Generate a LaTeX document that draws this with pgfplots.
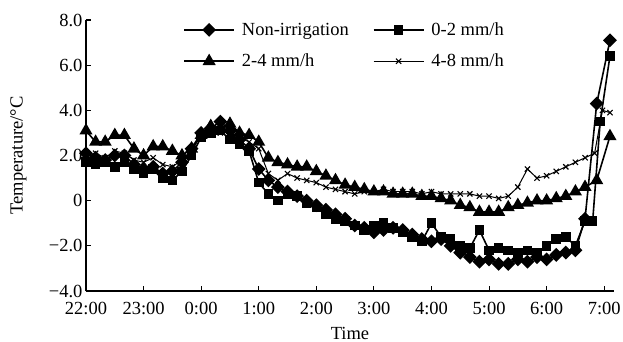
\documentclass[border=0pt]{standalone}
\usepackage{pgfplots}
\pgfplotsset{compat=1.18}
\usepackage{pgfplotstable}
\usepackage{fontspec}
\setmainfont{Liberation Serif}

% hours after 22:00, temperature (deg C)
\pgfplotstableread{
h T
0.000 2.1
0.167 1.9
0.333 1.8
0.500 2.0
0.667 2.0
0.833 1.6
1.000 1.4
1.167 1.5
1.333 1.2
1.500 1.3
1.667 1.7
1.833 2.3
2.000 3.0
2.167 3.2
2.333 3.5
2.500 3.1
2.667 2.7
2.833 2.3
3.000 1.4
3.167 0.9
3.333 0.6
3.500 0.4
3.667 0.2
3.833 0.0
4.000 -0.2
4.167 -0.4
4.333 -0.6
4.500 -0.8
4.667 -1.1
4.833 -1.2
5.000 -1.4
5.167 -1.3
5.333 -1.2
5.500 -1.3
5.667 -1.5
5.833 -1.7
6.000 -1.8
6.167 -1.7
6.333 -2.0
6.500 -2.3
6.667 -2.5
6.833 -2.7
7.000 -2.6
7.167 -2.8
7.333 -2.8
7.500 -2.6
7.667 -2.7
7.833 -2.5
8.000 -2.6
8.167 -2.4
8.333 -2.3
8.500 -2.2
8.667 -0.8
8.870 4.3
9.100 7.1
}\tabNI

\pgfplotstableread{
h T
0.000 1.7
0.167 1.6
0.333 1.7
0.500 1.5
0.667 1.7
0.833 1.4
1.000 1.2
1.167 1.4
1.333 1.0
1.500 0.9
1.667 1.3
1.833 2.0
2.000 2.8
2.167 3.0
2.333 3.1
2.500 2.7
2.667 2.5
2.833 2.2
3.000 0.8
3.167 0.3
3.333 0.0
3.500 0.3
3.667 0.2
3.833 -0.1
4.000 -0.3
4.167 -0.6
4.333 -0.8
4.500 -0.9
4.667 -1.1
4.833 -1.3
5.000 -1.1
5.167 -1.0
5.333 -1.2
5.500 -1.4
5.667 -1.6
5.833 -1.8
6.000 -1.0
6.167 -1.6
6.333 -1.7
6.500 -2.0
6.667 -2.1
6.833 -1.3
7.000 -2.2
7.167 -2.1
7.333 -2.2
7.500 -2.3
7.667 -2.2
7.833 -2.3
8.000 -2.0
8.167 -1.7
8.333 -1.6
8.500 -2.0
8.667 -0.9
8.800 -0.9
8.930 3.5
9.100 6.4
}\tabA

\pgfplotstableread{
h T
0.000 3.1
0.167 2.6
0.333 2.6
0.500 2.9
0.667 2.9
0.833 2.3
1.000 2.0
1.167 2.4
1.333 2.4
1.500 2.2
1.667 2.0
1.833 2.3
2.000 2.9
2.167 3.3
2.333 3.2
2.500 3.4
2.667 3.0
2.833 2.9
3.000 2.6
3.167 1.9
3.333 1.7
3.500 1.6
3.667 1.5
3.833 1.5
4.000 1.3
4.167 1.1
4.333 0.9
4.500 0.7
4.667 0.6
4.833 0.5
5.000 0.4
5.167 0.4
5.333 0.3
5.500 0.3
5.667 0.3
5.833 0.2
6.000 0.2
6.167 0.1
6.333 0.0
6.500 -0.2
6.667 -0.3
6.833 -0.5
7.000 -0.5
7.167 -0.5
7.333 -0.3
7.500 -0.2
7.667 -0.1
7.833 0.0
8.000 0.0
8.167 0.1
8.333 0.2
8.500 0.4
8.667 0.6
8.870 0.9
9.100 2.85
}\tabB

\pgfplotstableread{
h T
0.000 2.0
0.167 2.1
0.333 1.9
0.500 2.2
0.667 2.1
0.833 1.8
1.000 1.7
1.167 1.9
1.333 1.6
1.500 1.5
1.667 1.8
1.833 2.2
2.000 2.9
2.167 3.1
2.333 3.0
2.500 3.2
2.667 2.8
2.833 2.6
3.000 2.3
3.167 1.2
3.333 0.9
3.500 1.2
3.667 1.0
3.833 0.9
4.000 0.8
4.167 0.6
4.333 0.5
4.500 0.4
4.667 0.3
4.833 0.4
5.000 0.4
5.167 0.5
5.333 0.4
5.500 0.4
5.667 0.4
5.833 0.3
6.000 0.4
6.167 0.3
6.333 0.3
6.500 0.3
6.667 0.3
6.833 0.2
7.000 0.2
7.167 0.1
7.333 0.2
7.500 0.6
7.667 1.4
7.833 1.0
8.000 1.1
8.167 1.3
8.333 1.5
8.500 1.7
8.667 1.9
8.833 2.1
8.970 4.0
9.100 3.9
}\tabC

\begin{document}
\begin{tikzpicture}
\useasboundingbox (-86bp,-51bp) rectangle (537bp,291bp);
\begin{axis}[
  at={(0,0)}, anchor=south west,
  scale only axis, width=528bp, height=271bp,
  xmin=0, xmax=9.17, ymin=-4, ymax=8,
  axis x line*=bottom, axis y line*=left,
  axis line style={line width=1.3bp},
  tick align=inside, major tick length=5bp,
  tick style={line width=1.1bp, black},
  xtick={0,1,2,3,4,5,6,7,8,9},
  xticklabels={22:00,23:00,0:00,1:00,2:00,3:00,4:00,5:00,6:00,7:00},
  ytick={-4,-2,0,2,4,6,8},
  yticklabels={−4.0,−2.0,0,2.0,4.0,6.0,8.0},
  tick label style={font=\fontsize{18.5bp}{21bp}\selectfont},
  xticklabel style={yshift=-8bp},
  label style={font=\fontsize{18.5bp}{21bp}\selectfont},
  xlabel={Time}, ylabel={Temperature/°C},
  xlabel style={at={(axis description cs:0.5,-0.155)}, anchor=center},
  ylabel style={at={(axis description cs:-0.128,0.5)}, anchor=center},
  legend columns=2,
  legend style={draw=none, fill=none, font=\fontsize{18.5bp}{21bp}\selectfont,
    at={(axis description cs:0.184,0.998)}, anchor=north west,
    inner sep=0pt, row sep=13bp,
    /tikz/every even column/.append style={column sep=22bp}},
  legend cell align=left,
  legend image code/.code={\draw[mark repeat=2,mark phase=2,#1] plot coordinates {(0bp,0bp) (25bp,0bp) (50bp,0bp)}; \path (55bp,0bp);},
]
\addplot[black, line width=1.6bp, mark=square*, mark size=4.1bp, mark options={rotate=45, solid}] table[x=h,y=T] {\tabNI};
\addlegendentry{Non-irrigation}
\addplot[black, line width=1.6bp, mark=square*, mark size=4bp, mark options={solid}] table[x=h,y=T] {\tabA};
\addlegendentry{0-2 mm/h}
\addplot[black, line width=1.6bp, mark=triangle*, mark size=6bp, mark options={solid}] table[x=h,y=T] {\tabB};
\addlegendentry{2-4 mm/h}
\addplot[black, line width=1bp, mark=x, mark size=3.7bp, mark options={solid, line width=1.1bp}] table[x=h,y=T] {\tabC};
\addlegendentry{4-8 mm/h}
\end{axis}
\end{tikzpicture}
\end{document}
